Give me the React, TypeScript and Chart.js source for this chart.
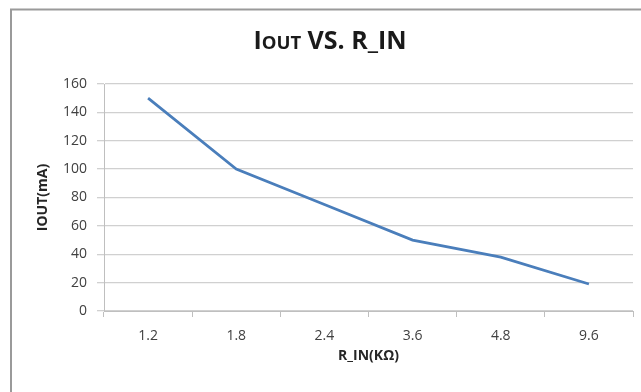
import React, { useEffect, useRef } from 'react';
import { Chart, registerables } from 'chart.js';

Chart.register(...registerables);

const categories = ['1.2', '1.8', '2.4', '3.6', '4.8', '9.6'];
const ioutValues = [150, 100, 75, 50, 38, 19];
const yMin = 0;
const yMax = 160;
const yStep = 20;
const titleLead = 'I';
const titleSub = 'OUT';
const titleRest = ' VS. R_IN';
const xAxisTitle = 'R_IN(KΩ)';
const yAxisTitle = 'IOUT(mA)';

const FONT = '"Open Sans", Lato, sans-serif';

const framePlugin = {
  id: 'frameAndTitle',
  beforeDraw(chart: any) {
    const ctx = chart.ctx;
    ctx.save();
    ctx.fillStyle = '#ffffff';
    ctx.fillRect(0, 0, chart.width, chart.height);
    ctx.strokeStyle = '#9a9a9a';
    ctx.lineWidth = 2;
    ctx.strokeRect(11, 9.5, chart.width + 50, chart.height + 50);
    ctx.restore();
  },
  afterDraw(chart: any) {
    const ctx = chart.ctx;
    ctx.save();
    ctx.fillStyle = '#1a1a1a';
    ctx.textBaseline = 'alphabetic';
    const big = `bold 25px ${FONT}`;
    const small = `bold 18.5px ${FONT}`;
    ctx.font = big;
    const w1 = ctx.measureText(titleLead).width;
    const w3 = ctx.measureText(titleRest).width;
    ctx.font = small;
    const w2 = ctx.measureText(titleSub).width;
    const total = w1 + w2 + w3;
    let x = 330 - total / 2;
    const y = 49;
    ctx.textAlign = 'left';
    ctx.font = big;
    ctx.fillText(titleLead, x, y);
    x += w1;
    ctx.font = small;
    ctx.fillText(titleSub, x, y);
    x += w2;
    ctx.font = big;
    ctx.fillText(titleRest, x, y);
    ctx.restore();
  },
};

export default function App() {
  const ref = useRef<HTMLCanvasElement | null>(null);
  useEffect(() => {
    if (!ref.current) return;
    const chart = new Chart(ref.current, {
      type: 'line',
      data: {
        labels: categories,
        datasets: [
          {
            label: 'IOUT',
            data: ioutValues,
            borderColor: '#4a7ebb',
            borderWidth: 2.75,
            pointRadius: 0,
            tension: 0,
            fill: false,
          },
        ],
      },
      options: {
        animation: false,
        responsive: true,
        maintainAspectRatio: false,
        layout: { padding: { left: 0, right: 8, top: 84, bottom: 0 } },
        plugins: {
          legend: { display: false },
          title: { display: false },
          tooltip: { enabled: false },
        },
        scales: {
          x: {
            offset: true,
            afterFit: (s: any) => {
              s.height = 81;
            },
            grid: {
              offset: true,
              drawOnChartArea: false,
              drawTicks: true,
              tickLength: 6,
              color: '#bfbfbf',
            },
            border: { display: true, color: '#bfbfbf', width: 1 },
            ticks: {
              padding: 11,
              color: '#404040',
              font: { family: FONT, size: 14 },
              maxRotation: 0,
            },
            title: {
              display: true,
              text: xAxisTitle,
              color: '#262626',
              font: { family: FONT, size: 14, weight: 'bold' },
              padding: { top: 0, bottom: 28 },
            },
          },
          y: {
            min: yMin,
            max: yMax,
            afterFit: (s: any) => {
              s.width = 104;
            },
            grid: {
              color: '#d0d0d0',
              lineWidth: 1.3,
              tickLength: 7,
              drawTicks: true,
            },
            border: { display: true, color: '#bfbfbf', width: 1 },
            ticks: {
              stepSize: yStep,
              padding: 10,
              color: '#404040',
              font: { family: FONT, size: 14 },
            },
            title: {
              display: true,
              text: yAxisTitle,
              color: '#262626',
              font: { family: FONT, size: 14, weight: 'bold' },
              padding: { top: 35, bottom: 0 },
            },
          },
        },
      },
      plugins: [framePlugin],
    });
    return () => chart.destroy();
  }, []);
  return (
    <div style={{ position: 'absolute', left: 0, top: 0, width: 641, height: 392 }}>
      <canvas ref={ref} />
    </div>
  );
}
